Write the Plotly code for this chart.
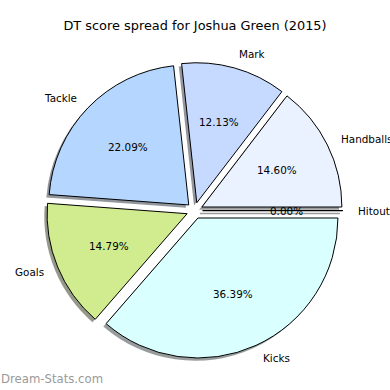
import math
import plotly.graph_objects as go

# ---- data ----
categories = ["Hitout", "Handballs", "Mark", "Tackle", "Goals", "Kicks"]
values = [0.00, 14.60, 12.13, 22.09, 14.79, 36.39]
colors = ["#ffe0e0", "#eaf1ff", "#c6daff", "#b4d6ff", "#d0ec8e", "#d9ffff"]
title_text = "DT score spread for Joshua Green (2015)"
watermark = "Dream-Stats.com"

# ---- layout constants (pixels) ----
W = H = 390
CX, CY = 194.6, 210.6   # pie centre, px from top-left
R = 140.0               # pie radius px
PULL = 0.058            # explode fraction of radius
SH = 0.02               # shadow offset fraction of radius
FONT = "DejaVu Sans"


def dom(cx, cy):
    half = R * (1 + PULL)
    return dict(x=[(cx - half) / W, (cx + half) / W],
                y=[(H - cy - half) / H, (H - cy + half) / H])


def shadow_col(h):
    h = h.lstrip("#")
    r, g, b = (int(h[i:i + 2], 16) for i in (0, 2, 4))
    return f"rgba({int(r*0.3)},{int(g*0.3)},{int(b*0.3)},0.55)"


fig = go.Figure()

# shadow pie
fig.add_trace(go.Pie(
    labels=categories, values=values, sort=False, direction="counterclockwise",
    rotation=90, pull=[PULL] * len(values),
    marker=dict(colors=[shadow_col(c) for c in colors], line=dict(width=0)),
    textinfo="none", hoverinfo="skip", showlegend=False,
    domain=dom(CX - SH * R, CY + SH * R)))

# main pie
fig.add_trace(go.Pie(
    labels=categories, values=values, sort=False, direction="counterclockwise",
    rotation=90, pull=[PULL] * len(values),
    marker=dict(colors=colors, line=dict(color="#000000", width=1)),
    textinfo="none", showlegend=False,
    domain=dom(CX, CY)))

# labels and percentages (matplotlib style placement)
total = sum(values)
annotations = []
shapes = []
cum = 0.0
for lab, v in zip(categories, values):
    t1 = 360 * cum / total
    cum += v
    t2 = 360 * cum / total
    tm = math.radians((t1 + t2) / 2)
    c, s = math.cos(tm), math.sin(tm)
    ex, ey = CX + PULL * R * c, CY - PULL * R * s
    lx, ly = ex + 1.1 * R * c, ey - 1.1 * R * s
    px, py = ex + 0.6 * R * c, ey - 0.6 * R * s
    annotations.append(dict(
        x=lx / W, y=1 - ly / H, xref="paper", yref="paper", text=lab,
        showarrow=False, xanchor="left" if c > 0 else "right", yanchor="middle",
        borderpad=0, font=dict(family=FONT, size=10.4, color="#000000")))
    annotations.append(dict(
        x=px / W, y=1 - py / H, xref="paper", yref="paper",
        text=f"{100 * v / total:.2f}%",
        showarrow=False, xanchor="center", yanchor="middle",
        borderpad=0, font=dict(family=FONT, size=10.4, color="#000000")))
    if v == 0:
        # zero-width wedge: drawn as a single edge line (with its shadow)
        for dx, dy, col, wd in ((-SH * R, SH * R, "rgba(60,60,60,0.5)", 1.5),
                                (0, 0, "#000000", 1)):
            shapes.append(dict(
                type="line", xref="paper", yref="paper",
                x0=(ex + dx) / W, y0=1 - (ey + dy) / H,
                x1=(ex + dx + R * c) / W, y1=1 - (ey + dy - R * s) / H,
                line=dict(color=col, width=wd)))

annotations.append(dict(
    x=0, y=1 - 379 / H, xref="paper", yref="paper", text=watermark,
    showarrow=False, xanchor="left", yanchor="middle", borderpad=0,
    font=dict(family=FONT, size=11.7, color="#9a9a9a")))

fig.update_layout(
    width=W, height=H,
    margin=dict(l=0, r=0, t=0, b=0),
    paper_bgcolor="white", plot_bgcolor="white",
    title=dict(text=title_text, x=0.5, xanchor="center", y=1 - 25 / H,
               yanchor="middle", yref="container",
               font=dict(family=FONT, size=12.9, color="#000000")),
    annotations=annotations, shapes=shapes,
    font=dict(family=FONT),
)

fig.write_html("out.html",
               config={"displayModeBar": False},
               post_script="document.body.style.margin='0';"
                           "document.body.style.overflow='hidden';")
